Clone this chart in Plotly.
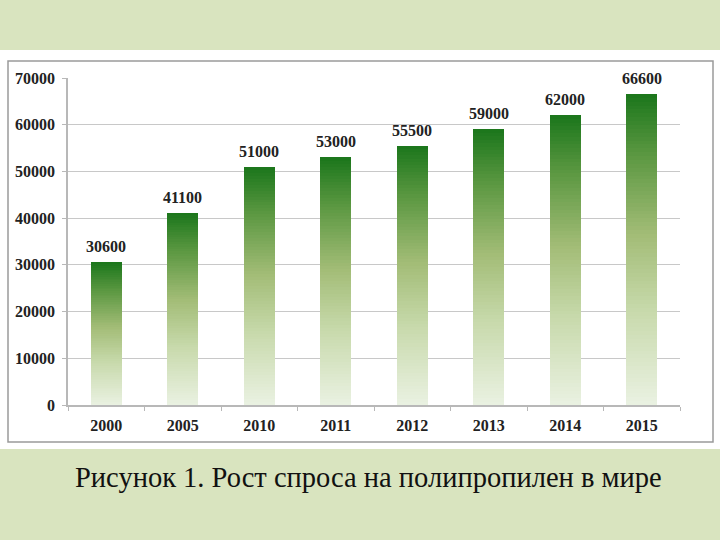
import plotly.graph_objects as go

years = ["2000", "2005", "2010", "2011", "2012", "2013", "2014", "2015"]
demand = [30600, 41100, 51000, 53000, 55500, 59000, 62000, 66600]
y_ticks = [0, 10000, 20000, 30000, 40000, 50000, 60000, 70000]
caption = "Рисунок 1. Рост спроса на полипропилен в мире"

W, H = 720, 540
L, R, T, B = 68, 40, 78, 135
pw, ph = W - L - R, H - T - B

def px_x(x):
    return (x - L) / pw

def px_y(y):
    return (H - B - y) / ph

# gradient stops (0 = bottom, 1 = top)
stops = [(0.0, (234, 241, 226)), (0.3, (200, 218, 172)), (0.55, (162, 188, 118)),
         (0.8, (92, 152, 66)), (1.0, (27, 118, 27))]

def grad(t):
    for (a, ca), (b, cb) in zip(stops[:-1], stops[1:]):
        if a <= t <= b:
            f = (t - a) / (b - a)
            c = [round(ca[i] + (cb[i] - ca[i]) * f) for i in range(3)]
            return f"rgb({c[0]},{c[1]},{c[2]})"
    return "rgb(27,118,27)"

N = 80
fig = go.Figure()
for k in range(N):
    fig.add_trace(go.Bar(
        x=years, y=[v / N for v in demand],
        marker=dict(color=grad((k + 0.5) / N), line=dict(width=0)),
        width=0.4, showlegend=False, hoverinfo="skip"))

for i, v in enumerate(demand):
    fig.add_annotation(x=i, y=v, text=f"{v}", showarrow=False,
                       yanchor="bottom", yshift=5,
                       font=dict(family="Liberation Serif", size=16, color="#222", weight="bold"))

fig.add_annotation(x=px_x(368), y=px_y(477), xref="paper", yref="paper",
                   text=caption, showarrow=False, xanchor="center", yanchor="middle",
                   font=dict(family="Liberation Serif", size=28.5, color="#111"))

shapes = [
    dict(type="rect", xref="paper", yref="paper", layer="below",
         x0=px_x(0), x1=px_x(W), y0=px_y(449), y1=px_y(50),
         fillcolor="white", line=dict(width=0)),
    dict(type="rect", xref="paper", yref="paper", layer="below",
         x0=px_x(8), x1=px_x(713), y0=px_y(442), y1=px_y(61),
         fillcolor="white", line=dict(color="#9a9a9a", width=1.5)),
]

tick_font = dict(family="Liberation Serif", size=16, color="#222", weight="bold")

fig.update_layout(
    width=W, height=H, barmode="stack", bargap=0.6,
    margin=dict(l=L, r=R, t=T, b=B, pad=0),
    paper_bgcolor="#d9e4bf", plot_bgcolor="rgba(0,0,0,0)",
    shapes=shapes,
    xaxis=dict(type="category", range=[-0.5, len(years) - 0.5], showline=True,
               linecolor="#b8b8b8", linewidth=1.5,
               ticks="outside", tickson="boundaries", ticklen=4, tickcolor="#b8b8b8",
               tickfont=tick_font, ticklabelstandoff=5, showgrid=False),
    yaxis=dict(range=[0, 70000], tickvals=y_ticks,
               showline=True, linecolor="#b8b8b8", linewidth=1.5,
               ticks="outside", ticklen=4, tickcolor="#b8b8b8",
               showgrid=True, gridcolor="#c8c8c8", gridwidth=1.3, zeroline=False,
               tickfont=tick_font, ticklabelstandoff=4, tickformat="d"),
)

fig.write_html("out.html")
